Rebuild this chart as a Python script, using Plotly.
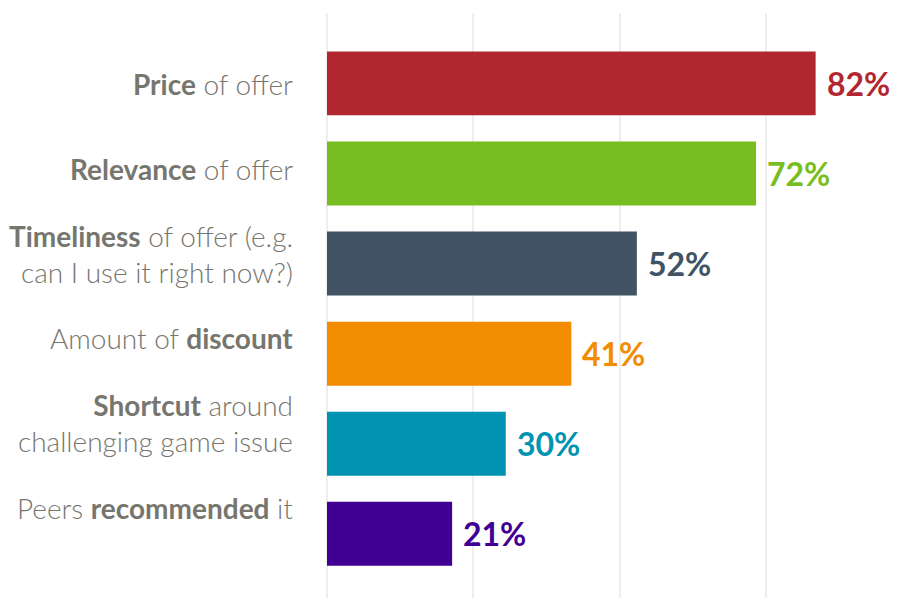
import plotly.graph_objects as go

# ---- data ----
categories = ["Price", "Relevance", "Timeliness", "Discount", "Shortcut", "Peers"]
label_texts = [
    "<b>Price</b> of offer",
    "<b>Relevance</b> of offer",
    "<b>Timeliness</b> of offer (e.g.<br>can I use it right now?)",
    "Amount of <b>discount</b>",
    "<b>Shortcut</b> around<br>challenging game issue",
    "Peers <b>recommended</b> it",
]
values = [82, 72, 52, 41, 30, 21]
colors = ["#b2272f", "#78be20", "#415364", "#f28c00", "#0093b2", "#410093"]

# ---- layout geometry (page body has an 8px offset) ----
OFF = 8
W, H = 905 - OFF, 598 - OFF
ML, MR, MT, MB = 327 - OFF, 0, 13 - OFF, 0
plot_h = H - MT - MB

fig = go.Figure()
fig.add_trace(go.Bar(
    x=values, y=categories, orientation="h",
    marker=dict(color=colors, line=dict(width=0)),
    hoverinfo="skip",
))

annotations = []
# value labels
for c, v, col in zip(categories, values, colors):
    annotations.append(dict(
        x=v, y=c, xref="x", yref="y", text=f"<b>{v}%</b>", showarrow=False,
        xanchor="left", yanchor="middle", xshift=9,
        font=dict(family="Lato", size=32, color=col),
    ))

# category labels (slightly tighter vertical spacing than the bars)
label_top_px, label_step_px = 84 - OFF, 84.75
for i, t in enumerate(label_texts):
    ypx = label_top_px + i * label_step_px
    annotations.append(dict(
        x=0, y=1 - (ypx - MT) / plot_h, xref="paper", yref="paper",
        text=t, showarrow=False, xanchor="right", yanchor="middle",
        xshift=-32, align="right",
        font=dict(family="Lato", size=28, color="#76766e", weight=300),
    ))

fig.update_layout(
    width=W, height=H,
    margin=dict(l=ML, r=MR, t=MT, b=MB, pad=0),
    paper_bgcolor="white", plot_bgcolor="white",
    bargap=0.29,
    showlegend=False,
    annotations=annotations,
    xaxis=dict(range=[0, 97], tick0=0, dtick=24.55, showgrid=True,
               gridcolor="#eeeeee", gridwidth=2, zeroline=True,
               zerolinecolor="#eeeeee", zerolinewidth=2,
               showticklabels=False, ticks="", showline=False, fixedrange=True),
    yaxis=dict(type="category", categoryorder="array", categoryarray=categories,
               range=[5.712, -0.781], showgrid=False, zeroline=False,
               showticklabels=False, ticks="", showline=False, fixedrange=True),
)

fig.write_html("out.html")
